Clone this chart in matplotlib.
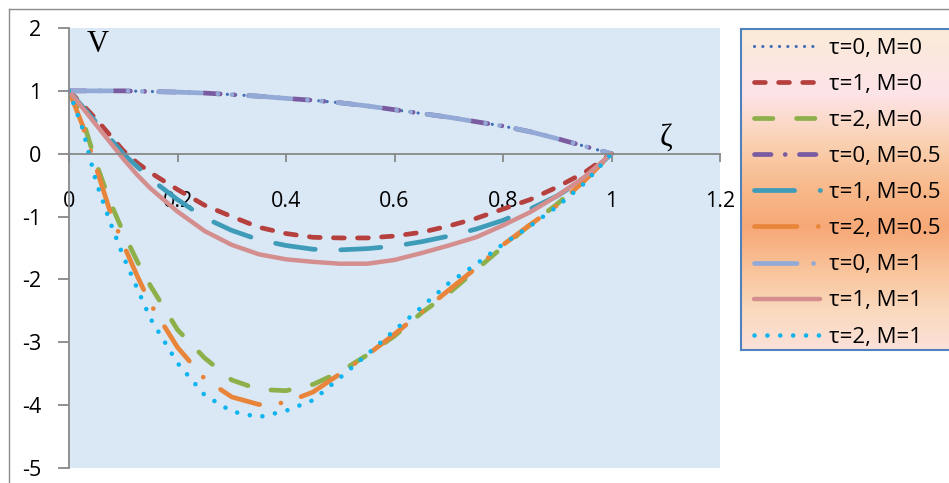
import numpy as np
import matplotlib.pyplot as plt
from matplotlib.colors import to_rgb
from matplotlib.lines import Line2D

plt.rcParams['font.family'] = ['Open Sans', 'DejaVu Sans']

# values
zeta = [0, 0.025, 0.05, 0.075, 0.1, 0.125, 0.15, 0.2, 0.25, 0.3, 0.35, 0.4,
        0.45, 0.5, 0.55, 0.6, 0.65, 0.7, 0.75, 0.8, 0.85, 0.9, 0.95, 1.0]

v_t0_m0 = [1.0, 1.0, 1.0, 1.0, 1.0, 0.995, 0.99, 0.98, 0.965, 0.94, 0.915, 0.88,
           0.85, 0.81, 0.76, 0.70, 0.64, 0.58, 0.51, 0.44, 0.35, 0.24, 0.12, 0.0]
v_t1_m0 = [1.0, 0.78, 0.55, 0.3, 0.05, -0.14, -0.3, -0.57, -0.82, -1.0, -1.17, -1.27,
           -1.33, -1.34, -1.34, -1.31, -1.25, -1.15, -1.03, -0.88, -0.73, -0.53, -0.3, 0.0]
v_t2_m0 = [1.0, 0.55, -0.15, -0.75, -1.25, -1.7, -2.1, -2.8, -3.25, -3.6, -3.75, -3.77,
           -3.67, -3.47, -3.2, -2.9, -2.53, -2.22, -1.85, -1.48, -1.13, -0.8, -0.42, 0.0]
v_t0_m05 = [1.0, 1.0, 1.0, 1.0, 1.0, 0.995, 0.99, 0.98, 0.965, 0.94, 0.915, 0.88,
            0.85, 0.81, 0.76, 0.70, 0.64, 0.58, 0.51, 0.44, 0.35, 0.24, 0.12, 0.0]
v_t1_m05 = [1.0, 0.75, 0.5, 0.25, 0.0, -0.2, -0.4, -0.73, -1.02, -1.22, -1.37, -1.46,
            -1.52, -1.53, -1.51, -1.47, -1.40, -1.31, -1.2, -1.06, -0.88, -0.67, -0.4, 0.0]
v_t2_m05 = [1.0, 0.45, -0.22, -0.9, -1.44, -1.93, -2.39, -3.08, -3.58, -3.87, -3.99, -3.96,
            -3.79, -3.5, -3.2, -2.87, -2.52, -2.17, -1.82, -1.45, -1.13, -0.82, -0.43, 0.0]
v_t0_m1 = [1.0, 1.0, 1.0, 1.0, 1.0, 0.995, 0.99, 0.98, 0.965, 0.94, 0.915, 0.88,
           0.85, 0.81, 0.76, 0.70, 0.64, 0.58, 0.51, 0.44, 0.35, 0.24, 0.12, 0.0]
v_t1_m1 = [1.0, 0.73, 0.46, 0.19, -0.08, -0.33, -0.55, -0.92, -1.23, -1.45, -1.6, -1.68,
           -1.72, -1.75, -1.75, -1.69, -1.58, -1.46, -1.33, -1.14, -0.93, -0.67, -0.37, 0.0]
v_t2_m1 = [1.0, 0.4, -0.45, -1.07, -1.63, -2.13, -2.62, -3.33, -3.84, -4.1, -4.19, -4.09,
           -3.92, -3.56, -3.19, -2.81, -2.44, -2.06, -1.76, -1.44, -1.15, -0.84, -0.47, 0.0]

labels = ['τ=0, M=0', 'τ=1, M=0', 'τ=2, M=0',
          'τ=0, M=0.5', 'τ=1, M=0.5', 'τ=2, M=0.5',
          'τ=0, M=1', 'τ=1, M=1', 'τ=2, M=1']
series = [v_t0_m0, v_t1_m0, v_t2_m0, v_t0_m05, v_t1_m05, v_t2_m05, v_t0_m1, v_t1_m1, v_t2_m1]

colors = ['#3f6fb5', '#b5403d', '#8db04a', '#7a5ba0', '#3e9cb8', '#e8853a',
          '#93aad6', '#d48e8e', '#0db4ee']
widths = [2.3, 3.4, 3.4, 3.4, 3.4, 3.4, 3.4, 3.2, 3.3]
styles = [(0, (0.01, 2.6)),
          (0, (2.3, 2.8)),
          (0, (3.9, 5.0)),
          (0, (3.5, 3.0, 0.01, 3.0)),
          (0, (8.5, 5.4)),
          (0, (9.0, 4.5, 0.01, 4.5)),
          (0, (9.0, 3.5, 0.01, 3.0, 0.01, 3.5)),
          '-',
          (0, (0.01, 2.8))]

W, H = 949, 483
fig = plt.figure(figsize=(W / 100, H / 100), dpi=100)

# outer chart border (top and left only visible)
fig.add_artist(Line2D([8.5 / W, 8.5 / W], [0, 1 - 8.5 / H], transform=fig.transFigure,
                      color='#8c8c8c', lw=1))
fig.add_artist(Line2D([8.5 / W, 1], [1 - 8.5 / H, 1 - 8.5 / H], transform=fig.transFigure,
                      color='#8c8c8c', lw=1))

ax = fig.add_axes([69 / W, 1 - 468 / H, 651 / W, 440 / H])
ax.set_facecolor('#dae7f5')

handles = []
for v, lab, c, lw, ls in zip(series, labels, colors, widths, styles):
    ln, = ax.plot(zeta, v, color=c, lw=lw, linestyle=ls, label=lab,
                  dash_capstyle='round', solid_capstyle='round')
    handles.append(ln)

ax.set_xlim(0, 1.2)
ax.set_ylim(-5, 2)
ax.spines['top'].set_visible(False)
ax.spines['right'].set_visible(False)
ax.spines['bottom'].set_position(('data', 0))
for s in ['bottom', 'left']:
    ax.spines[s].set_color('#888888')
    ax.spines[s].set_linewidth(1.3)

ax.set_xticks([0, 0.2, 0.4, 0.6, 0.8, 1.0, 1.2])
ax.set_xticklabels(['0', '0.2', '0.4', '0.6', '0.8', '1', '1.2'])
ax.set_yticks([-5, -4, -3, -2, -1, 0, 1, 2])
ax.set_yticklabels(['-5', '-4', '-3', '-2', '-1', '0', '1', '2'])
ax.tick_params(axis='x', direction='out', length=6, width=1.3, color='#888888',
               pad=21, labelsize=15.5)
ax.tick_params(axis='y', direction='out', length=8, width=1.3, color='#888888',
               pad=12, labelsize=15.5)

ax.text(0.052, 1.74, 'V', fontsize=22, family='Liberation Serif', ha='center', va='center')
ax.text(1.10, 0.24, 'ζ', fontsize=22, family='Liberation Serif', ha='center', va='center')

# legend box with gradient fill
lax = fig.add_axes([741 / W, 1 - 350 / H, 0.3, 321 / H])
stops = [0.0, 0.12, 0.2, 0.35, 0.5, 0.62, 0.75, 0.88, 1.0]
stop_cols = ['#fbebd8', '#fce6e2', '#fde4e8', '#fad2b3', '#f8b88a', '#f7a877',
             '#f9c39a', '#fad9be', '#fce1da']
t = np.linspace(0, 1, 200)
rgb = np.array([to_rgb(c) for c in stop_cols])
grad = np.stack([np.interp(t, stops, rgb[:, k]) for k in range(3)], axis=1)
lax.imshow(grad[:, None, :], aspect='auto', extent=[0, 1, 0, 1])
lax.set_xticks([])
lax.set_yticks([])
for s in lax.spines.values():
    s.set_color('#4f81bd')
    s.set_linewidth(1.5)

fig.legend(handles, labels, loc='upper left', bbox_to_anchor=(747 / W, 1 - 31 / H),
           frameon=False, fontsize=16, handlelength=3.0, handletextpad=0.4,
           labelspacing=0.68, borderpad=0.3, borderaxespad=0)

fig.savefig('out.png', dpi=100)
